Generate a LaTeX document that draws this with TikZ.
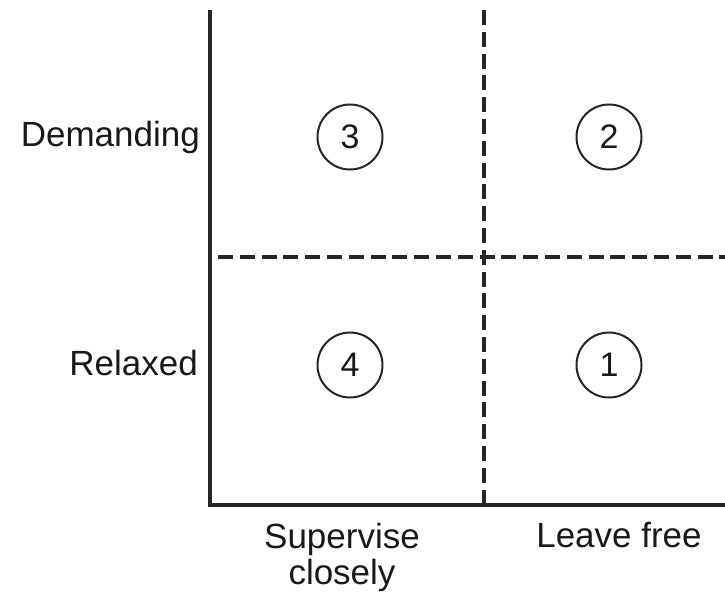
\documentclass[tikz,border=0pt]{standalone}
\usepackage{fontspec}
\setmainfont{Liberation Sans}
\begin{document}
\begin{tikzpicture}[x=1pt,y=-1pt,
  axis/.style={line width=3.2pt, draw=black!85},
  divider/.style={line width=3.3pt, draw=black!85, dash pattern=on 15pt off 6.8pt},
  num/.style={circle, draw=black!85, line width=2pt, minimum size=65pt, inner sep=0pt, font=\fontsize{34}{40}\selectfont},
  lbl/.style={font=\fontsize{35}{40}\selectfont, inner sep=0pt},
  every node/.style={text=black!90}]
\useasboundingbox (0,0) rectangle (725,598);
\coordinate (top) at (210,10);
\coordinate (origin) at (210,505);
\coordinate (right) at (725,505);
\coordinate (vtop) at (484,10);
\coordinate (vbot) at (484,505);
\coordinate (hl) at (218,257);
\coordinate (hr) at (725,257);
\draw[divider] (vtop) -- (vbot);
\draw[divider] (hl) -- (hr);
\draw[axis] (top) -- (origin) -- (right);
\node[num] (n3) at (350,137) {3};
\node[num] (n2) at (609,137) {2};
\node[num] (n4) at (350,365) {4};
\node[num] (n1) at (609,365) {1};
\node[lbl, anchor=east] (dem) at (200,137) {Demanding};
\node[lbl, anchor=east] (rel) at (198,363) {Relaxed};
\node[lbl, anchor=base, align=center] (sup) at (342,584) {Supervise\\[-4pt]closely};
\node[lbl, anchor=base] (free) at (619,547) {Leave free};
\end{tikzpicture}
\end{document}
